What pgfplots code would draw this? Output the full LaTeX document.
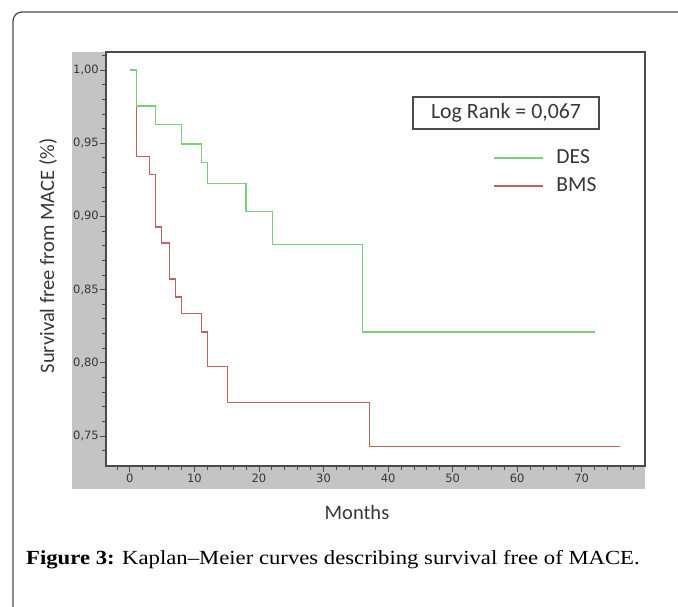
\documentclass[border=0pt]{standalone}
\usepackage{pgfplots}
\pgfplotsset{compat=1.18}
\usepackage{fontspec}
\setmainfont{Liberation Serif}
\newfontfamily\capfont{Liberation Serif}[FakeStretch=1.135]
\newfontfamily\carlito{Carlito}
\newfontfamily\tickfont{DejaVu Sans}
\definecolor{desgreen}{RGB}{120,208,120}
\definecolor{bmsred}{RGB}{192,98,98}
\definecolor{panelgray}{RGB}{196,196,196}
\definecolor{framegray}{RGB}{75,75,75}
\definecolor{txtgray}{RGB}{55,55,55}
\begin{document}
\begin{tikzpicture}
\useasboundingbox (0pt,0pt) rectangle (678pt,607pt);
\clip (0pt,0pt) rectangle (678pt,607pt);
% outer frame (clipped at right and bottom)
\draw[framegray, line width=1.3pt, rounded corners=9pt] (13pt,595pt) rectangle (700pt,-30pt);
% gray panel behind ticks
\fill[panelgray] (72pt,118pt) rectangle (645pt,555pt);
\begin{axis}[
  at={(106pt,141pt)}, anchor=south west,
  scale only axis, width=539pt, height=414pt,
  xmin=-3.7, xmax=79.8, ymin=0.7295, ymax=1.0123,
  axis background/.style={fill=white},
  axis line style={framegray, line width=1.2pt},
  tick align=outside, tick pos=left,
  major tick length=6.5pt, minor tick length=4pt,
  every tick/.style={framegray, line width=0.8pt},
  xtick={0,10,20,30,40,50,60,70},
  minor xtick={-2,2,4,6,8,12,14,16,18,22,24,26,28,32,34,36,38,42,44,46,48,52,54,56,58,62,64,66,68,72,74,76,78},
  ytick={0.75,0.8,0.85,0.9,0.95,1},
  minor ytick={0.74,0.76,0.77,0.78,0.79,0.81,0.82,0.83,0.84,0.86,0.87,0.88,0.89,0.91,0.92,0.93,0.94,0.96,0.97,0.98,0.99,1.01},
  yticklabel style={/pgf/number format/use comma, /pgf/number format/fixed, /pgf/number format/fixed zerofill, /pgf/number format/precision=2, inner sep=0.5pt},
  /pgf/number format/assume math mode=true,
  ticklabel style={font=\tickfont\fontsize{11.5}{13}\selectfont, text=txtgray},
  xticklabel style={inner sep=1.5pt},
  legend style={draw=none, fill=none, at={(axis description cs:0.7124,0.783)}, anchor=north west,
    font=\carlito\fontsize{21.5}{26}\selectfont, text=txtgray,
    nodes={text height=15pt, text depth=5pt, inner sep=4pt}, row sep=0pt, column sep=9pt},
  legend cell align=left,
  legend image code/.code={\draw[#1] (0pt,0pt) -- (49pt,0pt);},
]
\addlegendimage{desgreen, line width=1.3pt}
\addlegendentry{DES}
\addlegendimage{bmsred, line width=1.3pt}
\addlegendentry{BMS}
\addplot[const plot, bmsred, line width=1.3pt, forget plot] coordinates {
 (0,1.0) (1,0.9409) (3,0.9284) (4,0.8927) (4.9,0.8818) (6.1,0.8572) (7.1,0.845) (8,0.8336)
 (11.1,0.821) (12,0.7977) (15.1,0.7731) (37.1,0.7426) (76,0.7426)};
\addplot[const plot, desgreen, line width=1.3pt, forget plot] coordinates {
 (0,1.0) (1,0.9755) (4,0.963) (8,0.9495) (11.1,0.9368) (12,0.9227) (18,0.9033)
 (22.1,0.8806) (36,0.821) (72,0.821)};
\end{axis}
% Log rank box
\node[draw=framegray, line width=1.2pt, minimum width=186pt, minimum height=32pt, inner sep=0pt,
  font=\carlito\fontsize{21.8}{25}\selectfont, text=txtgray] at (506pt,494pt) {Log Rank = 0,067};
% axis labels
\node[rotate=90, font=\carlito\fontsize{20.5}{24}\selectfont, text=txtgray] at (48pt,351pt) {Survival free from MACE (\%)};
\node[font=\carlito\fontsize{20.5}{24}\selectfont, text=txtgray] at (357pt,95pt) {Months};
% caption
\node[anchor=base west, font=\capfont\fontsize{20}{24}\selectfont, inner sep=0pt] at (26pt,42.7pt) {\textbf{Figure 3:} Kaplan–Meier curves describing survival free of MACE.};
\end{tikzpicture}
\end{document}
